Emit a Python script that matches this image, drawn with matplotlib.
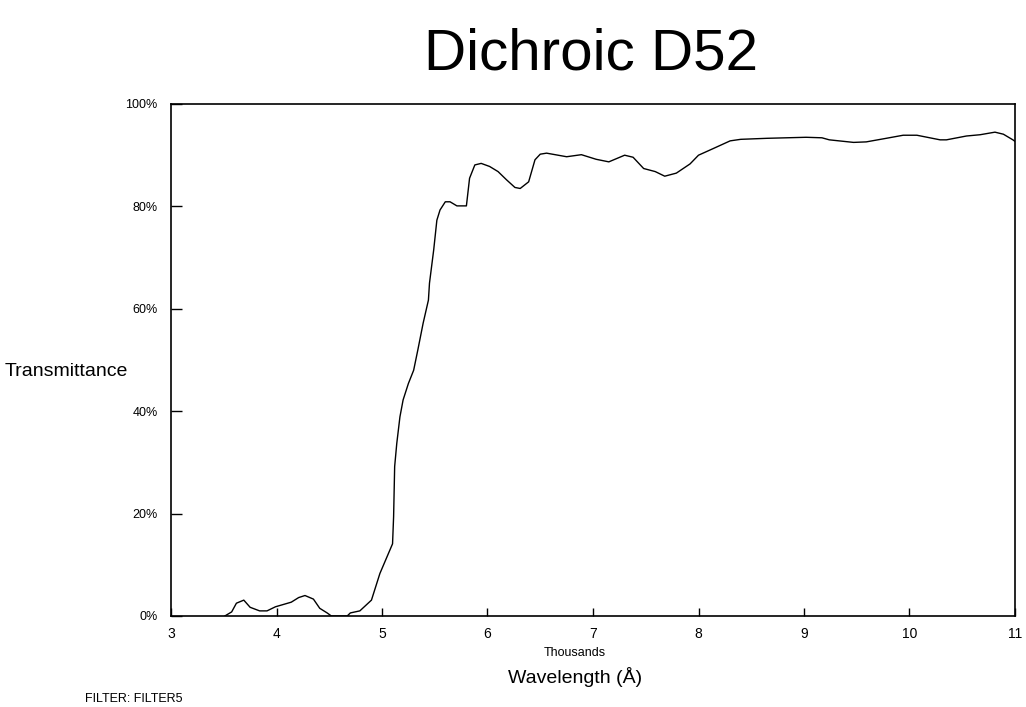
import matplotlib.pyplot as plt
from matplotlib.ticker import FuncFormatter

plt.rcParams['font.family'] = ['Liberation Sans', 'DejaVu Sans']

# wavelength in thousands of angstroms, transmittance in percent
wavelength = [3.51, 3.575, 3.62, 3.69, 3.75, 3.84, 3.91, 3.99, 4.14, 4.21,
              4.27, 4.35, 4.41, 4.48, 4.52, 4.67, 4.70, 4.79, 4.90, 4.98,
              5.10, 5.11, 5.12, 5.14, 5.17, 5.20, 5.25, 5.30, 5.34, 5.39,
              5.44, 5.45, 5.49, 5.52, 5.55, 5.60, 5.645, 5.71, 5.80, 5.83,
              5.88, 5.94, 6.02, 6.10, 6.18, 6.26, 6.31, 6.39, 6.45, 6.50,
              6.56, 6.75, 6.89, 7.03, 7.15, 7.30, 7.38, 7.48, 7.59, 7.68,
              7.79, 7.92, 8.0, 8.14, 8.30, 8.40, 8.65, 9.02, 9.17, 9.24,
              9.47, 9.59, 9.78, 9.94, 10.07, 10.29, 10.35, 10.54, 10.67, 10.81,
              10.89, 10.98, 11.0]
transmittance = [0.0, 0.8, 2.5, 3.1, 1.7, 1.0, 1.0, 1.8, 2.7, 3.6,
                 4.0, 3.3, 1.5, 0.6, 0.0, 0.0, 0.6, 1.0, 3.1, 8.3,
                 14.1, 19.4, 29.2, 33.7, 38.9, 42.2, 45.4, 48.0, 52.0, 57.2,
                 61.7, 65.0, 71.5, 77.3, 79.3, 80.9, 80.9, 80.1, 80.1, 85.5,
                 88.1, 88.4, 87.8, 86.8, 85.2, 83.7, 83.5, 84.8, 89.1, 90.2,
                 90.4, 89.7, 90.1, 89.2, 88.7, 90.0, 89.6, 87.4, 86.8, 85.9,
                 86.5, 88.3, 90.0, 91.3, 92.8, 93.1, 93.3, 93.5, 93.4, 93.0,
                 92.5, 92.6, 93.3, 93.9, 93.9, 93.0, 93.0, 93.75, 94.0, 94.5,
                 94.1, 93.0, 92.7]

x_ticks = [3, 4, 5, 6, 7, 8, 9, 10, 11]
y_ticks = [0, 20, 40, 60, 80, 100]

fig = plt.figure(figsize=(10.26, 7.07), dpi=100)
ax = fig.add_axes([171 / 1026, 1 - 616 / 707, 844 / 1026, 512 / 707])

ax.plot(wavelength, transmittance, color='black', linewidth=1.0)

ax.set_xlim(3, 11)
ax.set_ylim(0, 100)
ax.set_xticks(x_ticks)
ax.set_yticks(y_ticks)
ax.yaxis.set_major_formatter(FuncFormatter(lambda v, pos: '%d%%' % v))
ax.tick_params(axis='x', direction='in', length=6, width=1, labelsize=10, pad=8)
ax.tick_params(axis='y', direction='in', length=8, width=1, labelsize=9, pad=9.5)
for s in ax.spines.values():
    s.set_linewidth(1.2)

fig.text(591 / 1026, 1 - 54 / 707, 'Dichroic D52', fontsize=42,
         ha='center', va='center')
fig.text(575 / 1026, 1 - 653 / 707, 'Thousands', fontsize=9,
         ha='center', va='center')
fig.text(575 / 1026, 1 - 677 / 707, 'Wavelength (Å)', fontsize=14,
         ha='center', va='center')
fig.text(5 / 1026, 1 - 371 / 707, 'Transmittance', fontsize=14,
         ha='left', va='center')
fig.text(85 / 1026, 1 - 699 / 707, 'FILTER: FILTER5', fontsize=9,
         ha='left', va='center')

fig.savefig('out.png', dpi=100)
